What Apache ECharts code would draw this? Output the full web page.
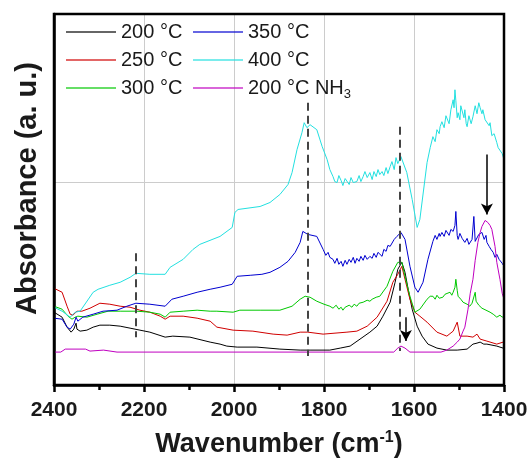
<!DOCTYPE html>
<html><head><meta charset="utf-8">
<script src="https://cdn.jsdelivr.net/npm/echarts@6/dist/echarts.min.js"></script>
<style>html,body{margin:0;padding:0;background:#fff}#c{width:531px;height:463px}</style>
</head><body><div id="c"></div>
<script>
// x: wavenumber (cm-1), y: absorbance (a.u., arbitrary units)
const xTicks = [2400, 2200, 2000, 1800, 1600, 1400];
const seriesNames = ['200 °C', '250 °C', '300 °C', '350 °C', '400 °C', '200 °C NH3'];

const s200 = [[2400,73],[2382,68],[2371,58],[2362,53],[2356,56],[2351,62],[2349,56],[2342,54],[2327,55],[2313,58],[2298,60],[2276,60],[2253,59],[2231,57],[2209,55],[2187,53],[2153,48],[2136,49],[2098,48],[2053,43],[2031,41],[2016,39],[1993,38],[1949,38],[1898,36],[1853,35],[1831,35],[1787,35],[1764,37],[1742,39],[1720,46],[1698,53],[1682,59],[1669,69],[1653,83],[1642,103],[1636,116],[1627,123],[1620,113],[1613,96],[1604,76],[1593,59],[1582,49],[1569,41],[1549,37],[1527,35],[1504,35],[1482,36],[1469,41],[1460,42],[1453,43],[1445,41],[1438,41],[1416,39],[1402,37],[1400,37]];

const s250 = [[2400,97],[2382,93],[2371,79],[2364,71],[2358,70],[2349,74],[2338,74],[2320,77],[2298,82],[2276,81],[2253,79],[2231,78],[2209,75],[2187,73],[2164,69],[2153,66],[2142,69],[2113,69],[2082,67],[2053,64],[2038,58],[2002,55],[1958,54],[1913,51],[1882,50],[1853,53],[1836,53],[1802,51],[1749,53],[1727,54],[1704,59],[1682,68],[1660,84],[1647,103],[1636,111],[1627,119],[1620,106],[1609,86],[1598,73],[1587,69],[1571,63],[1549,53],[1527,49],[1513,54],[1504,63],[1498,49],[1482,49],[1469,48],[1460,51],[1453,46],[1438,44],[1416,41],[1402,43],[1400,43]];

const s300 = [[2400,79],[2382,76],[2369,69],[2360,66],[2353,68],[2347,69],[2327,68],[2304,71],[2280,74],[2253,74],[2216,74],[2187,73],[2164,71],[2153,68],[2142,73],[2113,74],[2082,75],[2053,74],[2038,74],[2002,73],[1987,75],[1942,75],[1898,75],[1871,79],[1853,86],[1842,89],[1831,88],[1816,84],[1800,81],[1787,79],[1780,77],[1773,80],[1767,76],[1762,78],[1758,75],[1753,78],[1749,77],[1744,80],[1738,78],[1733,81],[1727,79],[1722,82],[1718,80],[1713,83],[1709,81],[1704,85],[1698,84],[1693,86],[1689,85],[1684,88],[1680,87],[1676,89],[1660,99],[1647,114],[1636,123],[1627,123],[1620,109],[1609,89],[1598,73],[1587,76],[1571,86],[1564,89],[1558,89],[1553,86],[1549,90],[1544,87],[1536,88],[1531,91],[1527,89],[1520,93],[1516,90],[1513,93],[1509,98],[1507,106],[1504,95],[1502,89],[1496,86],[1491,83],[1487,85],[1482,81],[1476,79],[1471,82],[1467,80],[1464,93],[1462,84],[1460,83],[1456,80],[1449,77],[1447,76],[1440,75],[1431,73],[1424,71],[1416,68],[1409,70],[1404,68],[1400,69]];

const s350 = [[2400,67],[2382,66],[2371,58],[2364,56],[2356,61],[2351,68],[2347,64],[2336,68],[2313,71],[2291,74],[2260,75],[2238,79],[2218,82],[2187,81],[2153,79],[2138,86],[2113,89],[2082,93],[2053,96],[2031,98],[2004,101],[1993,109],[1964,110],[1938,111],[1920,113],[1898,118],[1880,124],[1864,133],[1853,143],[1847,154],[1836,151],[1816,149],[1802,136],[1796,130],[1791,133],[1787,128],[1780,126],[1776,122],[1771,127],[1767,121],[1762,124],[1758,119],[1753,125],[1749,121],[1744,126],[1740,123],[1735,128],[1731,122],[1727,127],[1722,124],[1718,129],[1713,125],[1709,130],[1704,126],[1698,129],[1693,127],[1689,132],[1684,128],[1680,133],[1676,131],[1671,129],[1667,136],[1662,134],[1658,140],[1653,139],[1649,137],[1644,146],[1638,149],[1629,153],[1620,146],[1609,119],[1598,98],[1591,93],[1580,103],[1569,126],[1558,144],[1553,150],[1549,146],[1544,152],[1542,149],[1538,153],[1533,149],[1529,155],[1527,153],[1522,150],[1518,156],[1513,154],[1509,160],[1507,174],[1504,150],[1502,146],[1498,152],[1493,147],[1491,149],[1487,143],[1482,147],[1478,141],[1476,143],[1471,146],[1467,169],[1464,144],[1460,146],[1456,151],[1453,149],[1449,153],[1444,146],[1440,150],[1438,143],[1433,139],[1429,136],[1424,133],[1420,128],[1416,131],[1411,126],[1409,126],[1404,122],[1400,119]];

const s400 = [[2400,78],[2382,74],[2364,68],[2353,73],[2342,74],[2313,93],[2302,96],[2276,100],[2253,103],[2231,108],[2218,112],[2187,111],[2153,111],[2142,118],[2113,126],[2091,136],[2076,141],[2031,149],[2004,158],[1998,173],[1991,176],[1942,179],[1920,183],[1898,191],[1880,201],[1871,213],[1860,236],[1849,253],[1844,263],[1838,258],[1831,261],[1816,256],[1804,239],[1793,226],[1787,216],[1780,209],[1776,204],[1771,203],[1767,210],[1762,205],[1758,200],[1753,207],[1749,206],[1744,201],[1740,208],[1735,203],[1727,204],[1722,210],[1718,204],[1713,209],[1709,214],[1704,208],[1698,213],[1693,206],[1689,214],[1684,209],[1680,216],[1676,211],[1671,214],[1667,210],[1662,218],[1658,212],[1653,219],[1649,224],[1644,216],[1640,228],[1636,222],[1629,229],[1616,213],[1604,186],[1593,158],[1587,166],[1571,223],[1564,238],[1558,249],[1553,244],[1549,256],[1544,252],[1542,259],[1538,264],[1533,258],[1529,270],[1527,269],[1522,262],[1518,276],[1513,286],[1511,278],[1509,296],[1507,285],[1504,268],[1502,273],[1498,266],[1496,280],[1493,279],[1489,268],[1487,276],[1484,262],[1482,259],[1478,270],[1473,262],[1469,269],[1464,280],[1460,272],[1456,283],[1453,278],[1449,272],[1447,276],[1442,266],[1438,268],[1433,260],[1431,263],[1427,250],[1422,252],[1416,243],[1413,238],[1409,236],[1404,232],[1400,226]];

const sNH3 = [[2400,33],[2385,33],[2375,36],[2330,36],[2320,34],[2290,35],[2260,33],[2200,33],[2100,33],[2000,33],[1900,33],[1800,33],[1700,33],[1645,33],[1636,37],[1629,39],[1620,37],[1609,33],[1540,33],[1527,35],[1513,39],[1504,43],[1498,46],[1491,54],[1487,58],[1480,76],[1475,92],[1469,106],[1464,125],[1458,143],[1453,153],[1449,159],[1442,165],[1436,163],[1431,160],[1427,156],[1420,139],[1416,123],[1409,106],[1404,92],[1400,86]];

const dashedLines = [[1836, 283, 29], [1631, 259, 34], [2218, 132, 48]];
const arrows = [[1618, 68, 44], [1438, 231, 171]];

const colors = ['#000000', '#d00000', '#00c800', '#0000d0', '#22e0e0', '#c000c0'];
const seriesData = [s200, s250, s300, s350, s400, sNH3];

const font = 'Liberation Sans, Arial, sans-serif';
const chart = echarts.init(document.getElementById('c'), null, {renderer: 'canvas'});

const series = seriesData.map((d, i) => ({
  name: seriesNames[i], type: 'line', data: d, showSymbol: false, symbol: 'none',
  lineStyle: {width: 1, color: colors[i]}, itemStyle: {color: colors[i]},
  animation: false, z: 2
}));
series.push({
  type: 'line', data: [], silent: true, animation: false,
  markLine: {
    silent: true, symbol: 'none', animation: false, label: {show: false},
    lineStyle: {type: [8, 5], color: '#444', width: 2},
    data: dashedLines.map(l => [{coord: [l[0], l[1]]}, {coord: [l[0], l[2]]}])
  }
});
series.push({
  type: 'line', data: [], silent: true, animation: false,
  markLine: {
    silent: true, symbol: ['none', 'arrow'], symbolSize: [9, 11], animation: false, label: {show: false},
    lineStyle: {type: 'solid', color: '#000', width: 1.5},
    data: arrows.map(l => [{coord: [l[0], l[1]]}, {coord: [l[0], l[2]]}])
  }
});

const legendCommon = {
  orient: 'vertical', top: 22, padding: 0, itemWidth: 50, itemHeight: 2, icon: 'rect', itemGap: 8,
  itemStyle: {opacity: 0.6},
  textStyle: {fontFamily: font, fontSize: 20, color: '#1a1a1a', lineHeight: 20,
    rich: {
      t: {fontFamily: font, fontSize: 20, color: '#1a1a1a'},
      s: {fontFamily: font, fontSize: 13, color: '#1a1a1a', padding: [12, 0, 0, 0]}
    }},
  formatter: n => n === '200 °C NH3' ? '{t|200 °C NH}{s|3}' : n
};

chart.setOption({
  animation: false,
  backgroundColor: '#fff',
  grid: {left: 54, right: 27, top: 14, bottom: 77, show: true, borderColor: '#000', borderWidth: 2.5, z: 5},
  legend: [
    Object.assign({}, legendCommon, {left: 66, data: seriesNames.slice(0, 3)}),
    Object.assign({}, legendCommon, {left: 193, data: seriesNames.slice(3)})
  ],
  xAxis: {
    type: 'value', inverse: true, min: 1400, max: 2400, interval: 200,
    axisLine: {show: true, lineStyle: {color: '#000', width: 2.5}},
    axisTick: {show: true, inside: false, length: 7, lineStyle: {color: '#000', width: 2.5}},
    minorTick: {show: true, splitNumber: 2, length: 5, lineStyle: {color: '#000', width: 2.5}},
    splitLine: {show: true, lineStyle: {color: '#cccccc', width: 1}},
    axisLabel: {fontFamily: font, fontSize: 21, fontWeight: 'bold', color: '#1a1a1a', margin: 15,
      formatter: v => xTicks.includes(v) ? String(v) : ''},
    name: '{t|Wavenumber (cm}{s|-1}{t|)}',
    nameLocation: 'middle', nameGap: 45,
    nameTextStyle: {rich: {
      t: {fontFamily: font, fontSize: 27, fontWeight: 'bold', color: '#1a1a1a'},
      s: {fontFamily: font, fontSize: 16, fontWeight: 'bold', color: '#1a1a1a', padding: [0, 0, 13, 0]}
    }}
  },
  yAxis: {
    type: 'value', min: 0, max: 372, interval: 203,
    axisLine: {show: true, lineStyle: {color: '#000', width: 2.5}},
    axisTick: {show: false}, axisLabel: {show: false},
    splitLine: {show: true, lineStyle: {color: '#cccccc', width: 1}},
    name: 'Absorbance (a. u.)', nameLocation: 'middle', nameGap: 12,
    nameTextStyle: {fontFamily: font, fontSize: 29, fontWeight: 'bold', color: '#1a1a1a', padding: [0, 0, 0, 22]}
  },
  series: series
});
</script></body></html>
